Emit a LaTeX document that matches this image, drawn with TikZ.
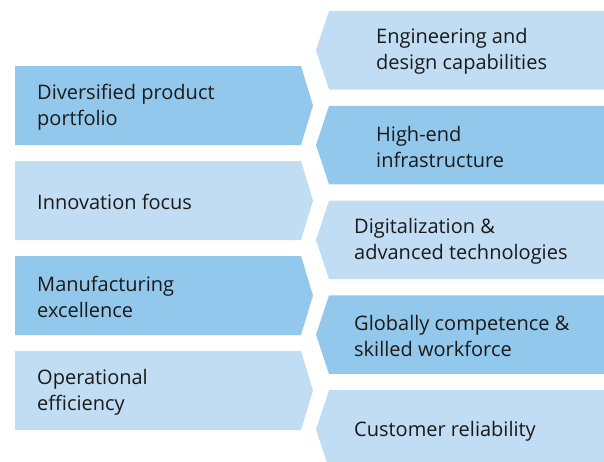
\documentclass[tikz,border=0pt]{standalone}
\usepackage{fontspec}
\setmainfont{Open Sans}
\definecolor{darkb}{RGB}{146,200,236}
\definecolor{lightb}{RGB}{192,221,243}
\definecolor{txt}{RGB}{26,26,26}
\begin{document}
\begin{tikzpicture}[x=1pt,y=-1pt,
  lbl/.style={anchor=west,align=left,inner sep=0pt,text=txt,font=\fontsize{20}{26}\selectfont}]
\useasboundingbox (0,0) rectangle (604,461);
\clip (0,0) rectangle (604,461);
% left arrows
\foreach \i/\c in {0/darkb,1/lightb,2/darkb,3/lightb}{
  \pgfmathsetmacro{\t}{66+95*\i}
  \fill[\c] (15,\t) -- (301,\t) -- (313,\t+39.5) -- (301,\t+79) -- (15,\t+79) -- cycle;
}
% right notched
\foreach \i/\c in {0/lightb,1/darkb,2/lightb,3/darkb,4/lightb}{
  \pgfmathsetmacro{\t}{11+94.8*\i}
  \fill[\c] (329,\t) -- (610,\t) -- (610,\t+78.5) -- (329,\t+78.5) -- (316,\t+39.25) -- cycle;
}
\node[lbl] (l1) at (37,107) {Diversified product\\portfolio};
\node[lbl] (l2) at (37,202) {Innovation focus};
\node[lbl] (l3) at (37,297) {Manufacturing\\excellence};
\node[lbl] (l4) at (37,392) {Operational\\efficiency};
\node[lbl] (r1) at (376,51.75) {Engineering and\\design capabilities};
\node[lbl] (r2) at (376,146.5) {High-end\\infrastructure};
\node[lbl] (r3) at (354,241.3) {Digitalization \&\\advanced technologies};
\node[lbl] (r4) at (354,336.1) {Globally competence \&\\skilled workforce};
\node[lbl] (r5) at (354,430.9) {Customer reliability};
\end{tikzpicture}
\end{document}
